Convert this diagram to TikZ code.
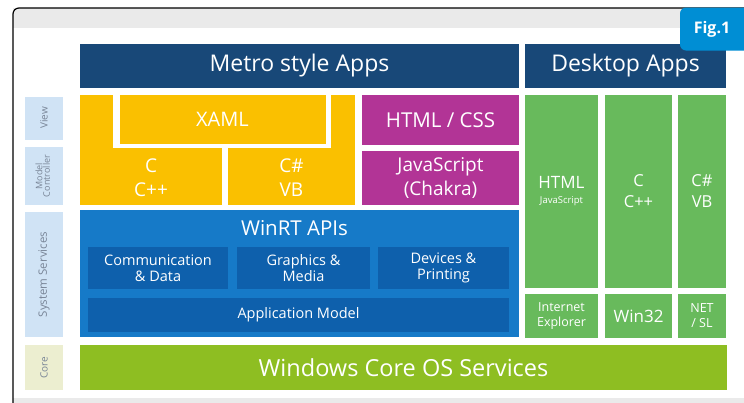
\documentclass[tikz,border=0pt]{standalone}
\usepackage{fontspec}
\setmainfont{Open Sans}
\usetikzlibrary{positioning}
\definecolor{navy}{RGB}{24,72,120}
\definecolor{sunny}{RGB}{250,192,0}
\definecolor{plum}{RGB}{178,52,150}
\definecolor{leaf}{RGB}{104,186,92}
\definecolor{sky}{RGB}{22,122,200}
\definecolor{deepsky}{RGB}{14,96,172}
\definecolor{lime}{RGB}{142,190,34}
\definecolor{paleblue}{RGB}{208,227,245}
\definecolor{palelime}{RGB}{236,238,208}
\definecolor{badge}{RGB}{0,142,212}
\definecolor{bandgray}{RGB}{234,234,234}
\definecolor{sidetext}{RGB}{120,132,150}

\begin{document}
\begin{tikzpicture}[x=1pt,y=-1pt,
  blk/.style={rectangle,inner sep=0pt,outer sep=0pt,text=white,align=center},
  side/.style={blk,text=sidetext,font=\fontsize{10}{10.5}\selectfont,minimum width=38pt},
  sub/.style={blk,fill=deepsky,font=\fontsize{14.5}{16}\selectfont}]
 \useasboundingbox (0,0) rectangle (744,402);
 \clip (0,0) rectangle (744,402);

 % frame
 \fill[bandgray] (13,8) rectangle (760,28);
 \fill[bandgray] (13,398) rectangle (760,410);
 \draw[line width=1.2pt,rounded corners=6pt] (13,420) -- (13,8) -- (760,8);

 % side labels
 \node[side,fill=paleblue,minimum height=43pt] (view) at (44,118) {\rotatebox{90}{View}};
 \node[side,fill=paleblue,minimum height=58pt,font=\fontsize{9}{9}\selectfont] (mc) at (44,176) {\rotatebox{90}{\begin{tabular}{@{}c@{}}Model\\[-2pt]Controller\end{tabular}}};
 \node[side,fill=paleblue,minimum height=125pt,font=\fontsize{11.5}{12}\selectfont] (sys) at (44,274.5) {\rotatebox{90}{System Services}};
 \node[side,fill=palelime,minimum height=45pt] (core) at (44,367.5) {\rotatebox{90}{Core}};

 % headers
 \node[blk,fill=navy,minimum width=439pt,minimum height=44pt,font=\fontsize{23}{25}\selectfont] (metro) at (299.5,66) {Metro style Apps};
 \node[blk,fill=navy,minimum width=201pt,minimum height=44pt,font=\fontsize{23}{25}\selectfont] (desk) at (625.5,66) {Desktop Apps};

 % XAML / C / C#
 \fill[sunny] (80,95) rectangle (355,205);
 \fill[white] (113,93) rectangle (331,148);
 \fill[white] (222,148) rectangle (228,206);
 \node[blk,fill=sunny,minimum width=206pt,minimum height=49pt,font=\fontsize{20}{22}\selectfont] (xaml) at (222.5,119.5) {XAML};
 \node[blk,font=\fontsize{19}{24}\selectfont] (cpp) at (151,178) {C\\C++};
 \node[blk,font=\fontsize{19}{24}\selectfont] (csvb) at (291.5,178) {C\#\\VB};

 % HTML / JavaScript
 \node[blk,fill=plum,minimum width=157pt,minimum height=50pt,font=\fontsize{20.5}{22}\selectfont] (html) at (440.5,120) {HTML / CSS};
 \node[blk,fill=plum,minimum width=157pt,minimum height=54pt,font=\fontsize{19}{24}\selectfont] (js) at (440.5,178) {JavaScript\\(Chakra)};

 % desktop columns
 \node[blk,fill=leaf,minimum width=73pt,minimum height=193pt,font=\fontsize{17}{18}\selectfont] (dhtml) at (561.5,191.5) {HTML\\[-3pt]{\fontsize{9.5}{10}\selectfont JavaScript}};
 \node[blk,fill=leaf,minimum width=67pt,minimum height=193pt,font=\fontsize{16.5}{21}\selectfont] (dcpp) at (638.5,191.5) {C\\C++};
 \node[blk,fill=leaf,minimum width=48pt,minimum height=193pt,font=\fontsize{16.5}{21}\selectfont] (dcs) at (702,191.5) {C\#\\VB};
 \node[blk,fill=leaf,minimum width=73pt,minimum height=44pt,font=\fontsize{12.5}{15}\selectfont] (ie) at (561.5,316) {Internet\\Explorer};
 \node[blk,fill=leaf,minimum width=67pt,minimum height=44pt,font=\fontsize{17}{19}\selectfont] (win32) at (638.5,316) {Win32};
 \node[blk,fill=leaf,minimum width=48pt,minimum height=44pt,font=\fontsize{12.5}{15}\selectfont] (net) at (702,316) {NET\\/ SL};

 % WinRT
 \node[blk,fill=sky,minimum width=439pt,minimum height=127pt] (winrt) at (299.5,273.5) {};
 \node[blk,font=\fontsize{20.5}{22}\selectfont] (winrtlbl) at (294.5,228) {WinRT APIs};
 \node[sub,minimum width=140pt,minimum height=42pt] (comm) at (158,268) {Communication\\\& Data};
 \node[sub,minimum width=133pt,minimum height=42pt] (gfx) at (303.5,268) {Graphics \&\\Media};
 \node[sub,minimum width=131pt,minimum height=42pt] (dev) at (443.5,268) {Devices \&\\Printing};
 \node[sub,minimum width=421pt,minimum height=34pt] (appm) at (298.5,315) {Application Model};

 % core
 \node[blk,fill=lime,minimum width=647pt,minimum height=45pt,font=\fontsize{23.5}{25}\selectfont] (os) at (403.5,367.5) {Windows Core OS Services};

 % badge
 \node[blk,fill=badge,rounded corners=6pt,minimum width=70pt,minimum height=43pt,font=\fontsize{16}{18}\selectfont\bfseries] (fig) at (715,29) {Fig.1\hspace*{6pt}};
\end{tikzpicture}
\end{document}
